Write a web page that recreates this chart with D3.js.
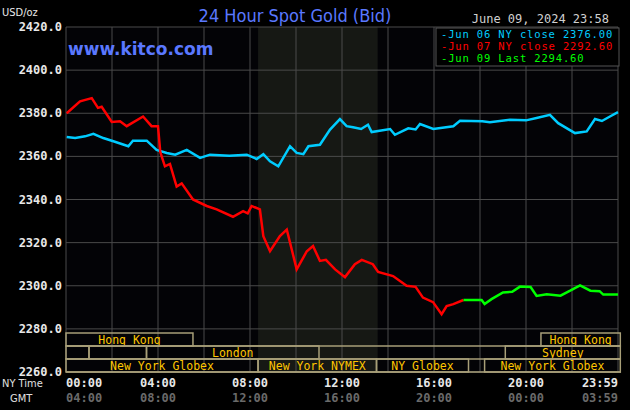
<!DOCTYPE html><html><head><meta charset="utf-8">
<script src="https://cdn.jsdelivr.net/npm/d3@7"></script>
<style>body{margin:0;background:#000}svg{display:block}</style></head><body>
<svg id="c" width="630" height="410"></svg>
<script>
const blueHours=[0.03,0.4,0.83,1.19,1.62,2.06,2.71,2.91,3.51,3.94,4.38,4.75,5.25,5.83,6.26,7.1,7.86,8.29,8.58,8.87,9.23,9.74,10.03,10.32,10.54,11.04,11.48,11.91,12.2,12.48,12.83,13.13,13.29,14.09,14.3,14.88,15.2,15.39,15.97,16.84,17.13,18.1,18.43,19.3,20.0,20.46,21.04,21.4,22.13,22.64,23.0,23.3,23.65,24];
const blueVals=[2369,2368.5,2369.3,2370.5,2368.5,2367,2364.7,2367.3,2367.3,2363,2361.6,2360.8,2363,2359.3,2360.8,2360.3,2360.8,2358.8,2361,2357.7,2355.4,2364.7,2361.6,2361,2364.7,2365.4,2372.4,2377.3,2374,2373.5,2372.7,2374.7,2371.3,2372.7,2370,2373,2372.5,2375,2372.7,2374,2376.5,2376.3,2375.8,2377,2376.7,2377.8,2379.3,2375.4,2370.8,2371.6,2377.3,2376.4,2378.5,2380.5];
const redHours=[0.03,0.61,1.12,1.39,1.55,1.99,2.35,2.64,3.35,3.72,4.0,4.1,4.3,4.52,4.81,5.03,5.52,6.12,6.55,7.26,7.7,7.9,8.07,8.43,8.58,8.87,9.3,9.6,10.03,10.47,10.74,11.04,11.3,11.7,12.13,12.56,12.86,13.34,13.57,14.22,14.81,15.2,15.52,15.96,16.33,16.55,16.84,17.28];
const redVals=[2380,2385.5,2387,2382.5,2383,2376,2376.3,2374,2378.5,2374,2374,2362,2355.4,2356.5,2346,2347.5,2340,2337,2335.4,2332,2334.6,2333.6,2337,2335.4,2323,2316,2323,2326,2307.6,2316,2318.4,2311.5,2312,2307.6,2304,2310,2312,2310,2306.4,2304.5,2300,2299.5,2294.5,2292.4,2286.8,2290.6,2291.5,2293.4];
const greenHours=[17.28,18.07,18.2,18.5,19.0,19.4,19.74,20.2,20.46,20.9,21.5,21.92,22.35,22.8,23.2,23.36,24];
const greenVals=[2293.4,2293.4,2291.5,2293.8,2296.9,2297.2,2299.6,2299.4,2295.3,2296,2295.4,2297.7,2300.2,2297.7,2297.5,2295.9,2295.9];
const yTicks=[2260,2280,2300,2320,2340,2360,2380,2400,2420];
const xTickHours=[0,4,8,12,16,20,23.98];
const nyLabels=["00:00","04:00","08:00","12:00","16:00","20:00","23:59"];
const gmtLabels=["04:00","08:00","12:00","16:00","20:00","00:00","03:59"];
const legend=[["Jun 06 NY close 2376.00","#00ccff"],["Jun 07 NY close 2292.60","#ff0000"],["Jun 09 Last 2294.60","#00ff00"]];
const sessions=[[0,0,5.52,"Hong Kong"],[0,20.65,24.1,"Hong Kong"],[1,0,1.0,""],[1,1.0,3.5,""],[1,3.5,11.0,"London"],[1,19.1,24.1,"Sydney"],[2,0,8.35,"New York Globex"],[2,8.35,13.5,"New York NYMEX"],[2,13.5,17.5,"NY Globex"],[2,18.2,24.1,"New York Globex"]];
const shade=[8.35,13.55];

const svg=d3.select("#c");
const x=d3.scaleLinear().domain([0,24]).range([66,618]);
const y=d3.scaleLinear().domain([2260,2420]).range([372,27]);
const mono="'DejaVu Sans Mono',monospace";
svg.append("rect").attr("width",630).attr("height",410).attr("fill","#000");
svg.append("rect").attr("x",66).attr("y",27).attr("width",552).attr("height",345).attr("fill","#030306");
svg.append("rect").attr("x",x(shade[0])).attr("y",27).attr("width",x(shade[1])-x(shade[0])).attr("height",345).attr("fill","#161814");
const g=svg.append("g");
d3.range(0,25,2).forEach(h=>g.append("line").attr("x1",x(h)).attr("x2",x(h)).attr("y1",27).attr("y2",372).attr("stroke","#4a4a4a"));
yTicks.forEach(v=>g.append("line").attr("x1",66).attr("x2",618).attr("y1",y(v)).attr("y2",y(v)).attr("stroke","#4a4a4a"));
yTicks.forEach(v=>svg.append("text").attr("x",62).attr("y",y(v)+4).attr("text-anchor","end").attr("fill","#e8e8e8").attr("font-family",mono).attr("font-weight","bold").attr("font-size",12).text(v.toFixed(1)));
const rowY=[333,346,359],rowH=13;
sessions.forEach(([r,s,e,l])=>{
 const x0=x(s),x1=Math.min(x(e),621);
 svg.append("rect").attr("x",x0).attr("y",rowY[r]).attr("width",x1-x0).attr("height",rowH).attr("fill","none").attr("stroke","#a89f78").attr("stroke-width",1.5);
 if(l) svg.append("text").attr("x",(x0+x1)/2).attr("y",rowY[r]+10.5).attr("text-anchor","middle").attr("fill","#ffc600").attr("font-family",mono).attr("font-size",11.5).text(l);
});
[346,359,372].forEach(yy=>svg.append("line").attr("x1",66).attr("x2",621).attr("y1",yy).attr("y2",yy).attr("stroke","#a89f78").attr("stroke-width",1.5));
[[blueHours,blueVals,"#00ccff"],[redHours,redVals,"#ff0000"],[greenHours,greenVals,"#00ff00"]].forEach(([h,v,c])=>{
 svg.append("path").datum(h.map((t,i)=>[t,v[i]])).attr("d",d3.line().x(d=>x(d[0])).y(d=>y(d[1]))).attr("fill","none").attr("stroke",c).attr("stroke-width",2.5);
});
xTickHours.forEach((h,i)=>{
 const anchor=i==0?"start":(i==6?"end":"middle");
 const px=i==0?x(h):(i==6?618:x(h));
 svg.append("text").attr("x",px).attr("y",387).attr("text-anchor",anchor).attr("fill","#e8e8e8").attr("font-family",mono).attr("font-weight","bold").attr("font-size",12).text(nyLabels[i]);
 svg.append("text").attr("x",px).attr("y",402).attr("text-anchor",anchor).attr("fill","#6a6a6a").attr("font-family",mono).attr("font-weight","bold").attr("font-size",12).text(gmtLabels[i]);
});
svg.append("text").attr("x",2).attr("y",387).attr("fill","#e0e0e0").attr("font-family","'DejaVu Sans Condensed',sans-serif").attr("font-size",11).text("NY Time");
svg.append("text").attr("x",10).attr("y",402).attr("fill","#e0e0e0").attr("font-family","'DejaVu Sans Condensed',sans-serif").attr("font-size",11).text("GMT");
svg.append("text").attr("x",2).attr("y",16).attr("fill","#e8e8e8").attr("font-family","'DejaVu Sans Condensed',sans-serif").attr("font-size",11).text("USD/oz");
svg.append("text").attr("x",295).attr("y",22).attr("text-anchor","middle").attr("fill","#5a78ff").attr("font-family","'DejaVu Sans Condensed',sans-serif").attr("font-size",18).text("24 Hour Spot Gold (Bid)");
svg.append("text").attr("x",68).attr("y",55).attr("fill","#5a78ff").attr("font-family","'DejaVu Sans',sans-serif").attr("font-weight","bold").attr("font-size",17).text("www.kitco.com");
svg.append("text").attr("x",609).attr("y",23).attr("text-anchor","end").attr("fill","#d0d0d0").attr("font-family",mono).attr("font-size",12).text("June 09, 2024 23:58");
svg.append("rect").attr("x",436).attr("y",28).attr("width",183).attr("height",38).attr("fill","#000").attr("stroke","#555");
legend.forEach(([t,c],i)=>{
 svg.append("text").attr("x",441).attr("y",38+i*12).attr("fill",c).attr("font-family",mono).attr("font-size",10.5).attr("letter-spacing",0.85).text("-"+t);
});
</script></body></html>
